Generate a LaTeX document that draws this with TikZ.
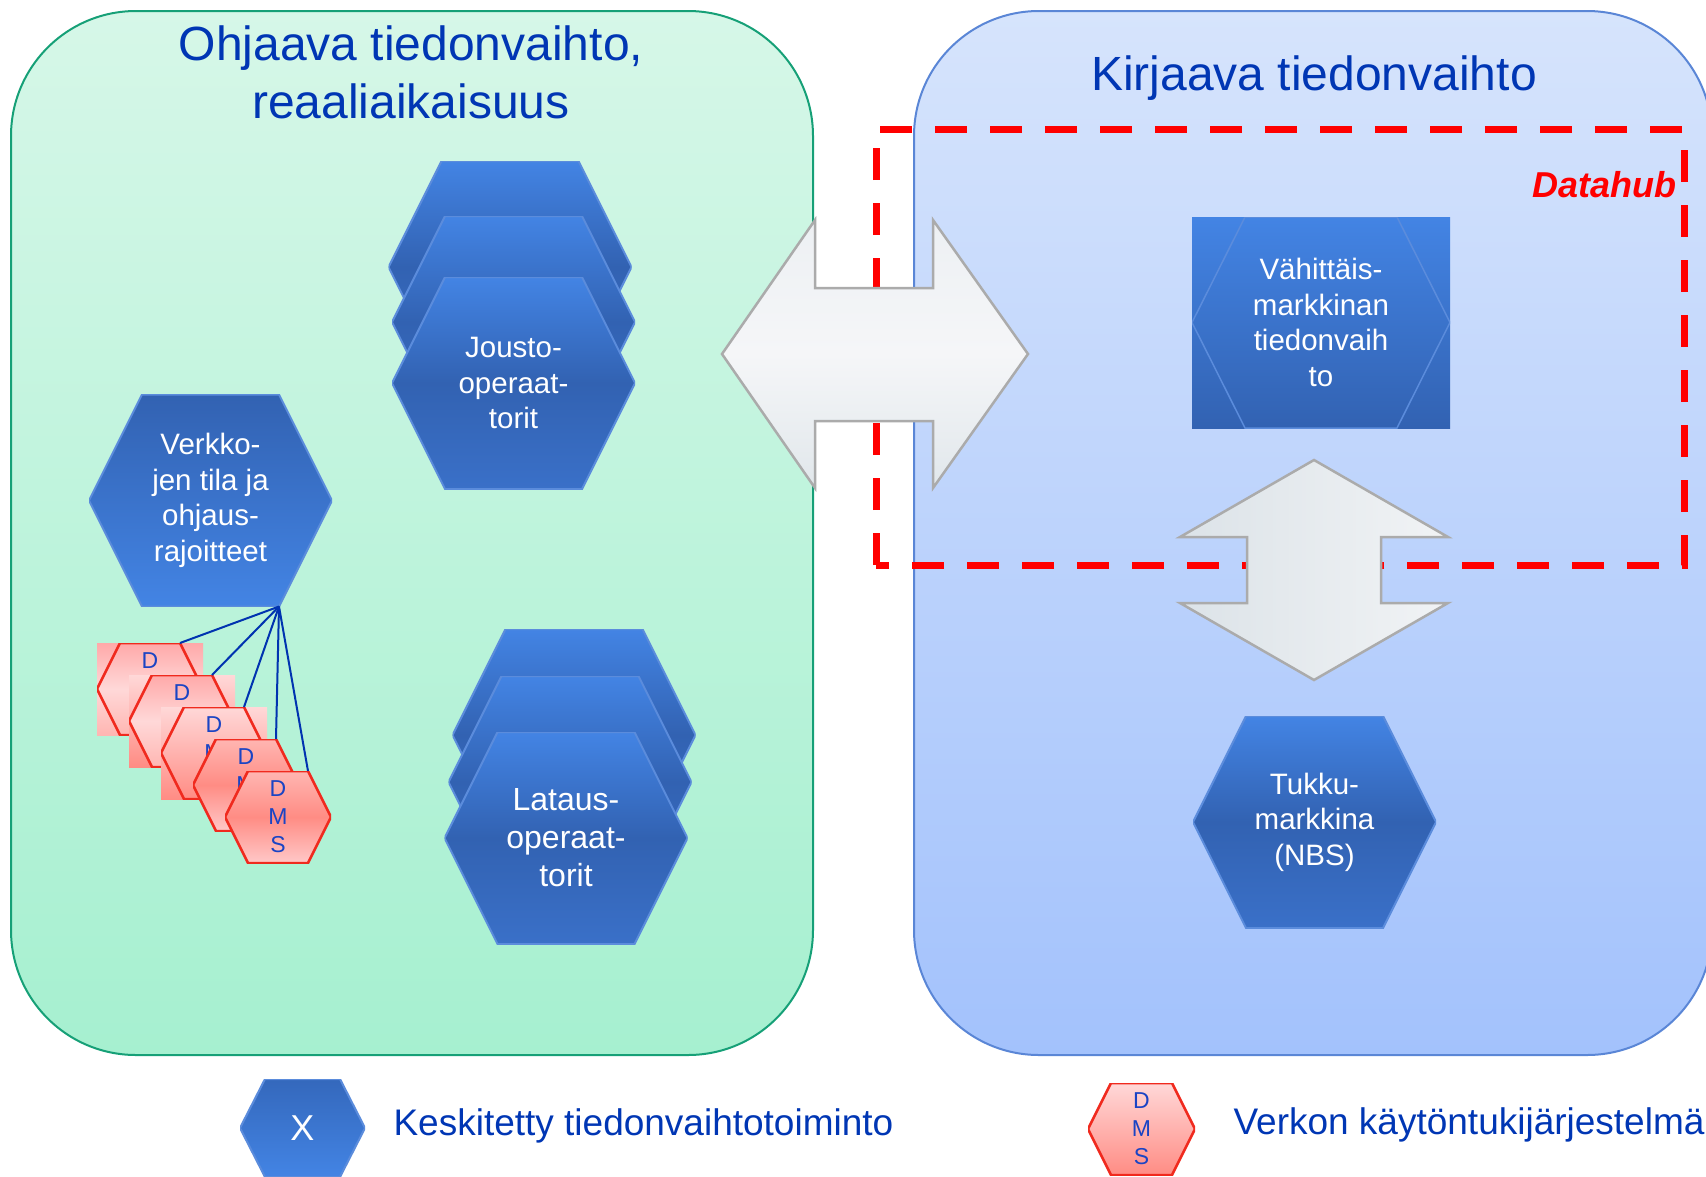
\documentclass[tikz,border=0pt]{standalone}
\usepackage{fontspec}
\setmainfont{Liberation Sans}
\usepackage{tikz}
\usepackage{xcolor}
\usetikzlibrary{calc}
\definecolor{titleblue}{HTML}{0036B4}
\definecolor{greentop}{HTML}{D6F7E8}
\definecolor{greenbot}{HTML}{A6F0D0}
\definecolor{greenedge}{HTML}{16A077}
\definecolor{bluetop}{HTML}{D6E4FC}
\definecolor{bluebot}{HTML}{A3C2FC}
\definecolor{blueedge}{HTML}{5A86D6}
\definecolor{hexlight}{HTML}{4384E4}
\definecolor{hexdark}{HTML}{3262B2}
\definecolor{hexlow}{HTML}{3A70C8}
\definecolor{hexedge}{HTML}{5B8CDC}
\definecolor{legtop}{HTML}{3468BC}
\definecolor{arrowtop}{HTML}{EDF0F3}
\definecolor{arrowmid}{HTML}{F5F6F8}
\definecolor{arrowbot}{HTML}{E1E7EB}
\definecolor{arrowleft}{HTML}{DCE3E8}
\definecolor{arrowright}{HTML}{F1F3F5}
\definecolor{arrowedge}{HTML}{ABABAB}
\definecolor{hubred}{HTML}{FF0000}
\definecolor{linkblue}{HTML}{0033B0}
\definecolor{dmsedge}{HTML}{F02A1E}
\definecolor{dmstext}{HTML}{1A44C4}
\definecolor{dmsA}{HTML}{FFA9A9}
\definecolor{dmsB}{HTML}{FFD8D8}
\definecolor{dmsC}{HTML}{FF8C84}
\definecolor{dmsD}{HTML}{FFC8C8}
\definecolor{dmsE}{HTML}{FFB6B2}
\tikzset{hexcut/.store in=\hexcut, hexcut=53}
\tikzstyle{panel} =[
    rounded corners=125pt,
    line width=2pt
    ]
\tikzstyle{title} =[
    text=titleblue,
    font=\fontsize{48}{58}\selectfont,
    align=center
    ]
\tikzstyle{hexfill} =[top color=hexlight, bottom color=hexlow, middle color=hexdark]
\tikzstyle{hexline} =[draw=hexedge, line width=2pt]
\tikzstyle{hexa} =[
    minimum width=243pt,
    minimum height=212pt,
    inner sep=0pt,
    outer sep=0pt,
    align=center,
    text=white,
    font=\fontsize{29.5}{35.5}\selectfont,
    path picture={
      \shade[hexfill, hexline] (path picture bounding box.west)
        -- ([xshift=\hexcut]path picture bounding box.north west)
        -- ([xshift=-\hexcut]path picture bounding box.north east)
        -- (path picture bounding box.east)
        -- ([xshift=-\hexcut]path picture bounding box.south east)
        -- ([xshift=\hexcut]path picture bounding box.south west) -- cycle;
    }
    ]
\tikzstyle{lowtext} =[execute at begin node={\rule{0pt}{1em}}]
\tikzstyle{dms} =[
    hexa,
    minimum width=106pt,
    minimum height=92pt,
    hexcut=23,
    text=dmstext,
    font=\fontsize{23}{28}\selectfont,
    hexline/.style={draw=dmsedge, line width=2.5pt}
    ]
\tikzstyle{pale} =[top color=dmsA, bottom color=dmsE, middle color=dmsB]
\tikzstyle{fade} =[top color=dmsB, bottom color=dmsC]
\tikzstyle{salmon} =[top color=dmsE, bottom color=dmsD, middle color=dmsC]
\tikzstyle{link} =[draw=linkblue, line width=2pt]
\tikzstyle{bigarrow} =[draw=arrowedge, line width=2.5pt]
\tikzstyle{hub} =[draw=hubred, line width=7pt, dash pattern=on 32pt off 23pt]
\tikzstyle{legend} =[text=titleblue, font=\fontsize{37}{44}\selectfont, anchor=base west]

\begin{document}
\begin{tikzpicture}[x=1pt, y=-1pt]
\useasboundingbox (0,0) rectangle (1706,1176);
\clip (0,0) rectangle (1706,1176);

% the two areas
\shade[panel, top color=greentop, bottom color=greenbot, draw=greenedge] (11,11) rectangle (813,1055);
\shade[panel, top color=bluetop, bottom color=bluebot, draw=blueedge] (914,11) rectangle (1712,1055);
\node[title] (ohjaava) at (411,72) {Ohjaava tiedonvaihto,\\reaaliaikaisuus};
\node[title, anchor=base] (kirjaava) at (1314,90) {Kirjaava tiedonvaihto};

% datahub frame
\draw[hub] (876,565) rectangle (1684,129);
\node[text=hubred, font=\fontsize{36}{43}\selectfont\bfseries\itshape, anchor=base east] (datahub) at (1680,197) {Datahub};

% exchange arrows
\shade[bigarrow, top color=arrowtop, bottom color=arrowbot, middle color=arrowmid, shift={(875,354)}]
  (-153,0) -- (-60,-134) -- (-60,-66) -- (58,-66) -- (58,-134) -- (153,0)
  -- (58,134) -- (58,67) -- (-60,67) -- (-60,134) -- cycle;
\shade[bigarrow, left color=arrowleft, right color=arrowright, shift={(1314,570)}]
  (0,-110) -- (134,-33) -- (67,-33) -- (67,33) -- (134,33) -- (0,110)
  -- (-134,33) -- (-67,33) -- (-67,-33) -- (-134,-33) -- cycle;

% functions
\node[hexa] (jousto1) at (510,267) {};
\node[hexa] (jousto2) at (513.5,322) {};
\node[hexa, lowtext] (jousto) at (513.5,383) {Jousto-\\operaat-\\torit};
\node[hexa] (lataus1) at (574,735) {};
\node[hexa] (lataus2) at (570,782) {};
\node[hexa, lowtext, font=\fontsize{32}{38}\selectfont] (lataus) at (566,838) {Lataus-\\operaat-\\torit};
\node[hexa, lowtext, hexfill/.style={top color=hexdark, bottom color=hexlight}] (verkko) at (210.5,500.5) {Verkko-\\jen tila ja\\ohjaus-\\rajoitteet};
\node[hexa, lowtext, minimum width=258pt, minimum height=211pt, top color=hexlight, bottom color=hexdark,
  hexfill/.style={top color=hexlight, bottom color=hexdark}, hexline/.style={draw=hexedge, line width=1.5pt}]
  (vahittais) at (1321,322.5) {V\"ahitt\"ais-\\markkinan\\tiedonvaih\\to};
\node[hexa, lowtext] (tukku) at (1314.5,822) {Tukku-\\markkina\\(NBS)};

% network operation systems
\node[dms, pale, hexfill/.style=pale] (dms1) at (150,689) {D\\M\\S};
\node[dms, fade, hexfill/.style=pale] (dms2) at (182,721) {D\\M\\S};
\node[dms, fade, hexfill/.style=fade] (dms3) at (214,753) {D\\M\\S};
\node[dms, hexfill/.style=salmon] (dms4) at (246,785) {D\\M\\S};
\node[dms, hexfill/.style=salmon] (dms5) at (278,817) {D\\M\\S};
\foreach \i in {1,...,5}
  \draw[link] ([xshift=-53]verkko.south east) -- ([xshift=-23]dms\i.north east);

% legend
\node[hexa, minimum width=125pt, minimum height=98pt, hexcut=25, font=\fontsize{36}{43}\selectfont,
  hexfill/.style={top color=legtop, bottom color=hexlight}] (keyhex) at (302.5,1128) {X};
\node[legend] (keytext) at (390,1135) {Keskitetty tiedonvaihtotoiminto};
\node[dms, minimum width=107pt, hexfill/.style=fade] (keydms) at (1141.5,1129) {D\\M\\S};
\node[legend] (keydmstext) at (1230,1134) {Verkon k\"ayt\"ontukij\"arjestelm\"a};
\end{tikzpicture}
\end{document}
